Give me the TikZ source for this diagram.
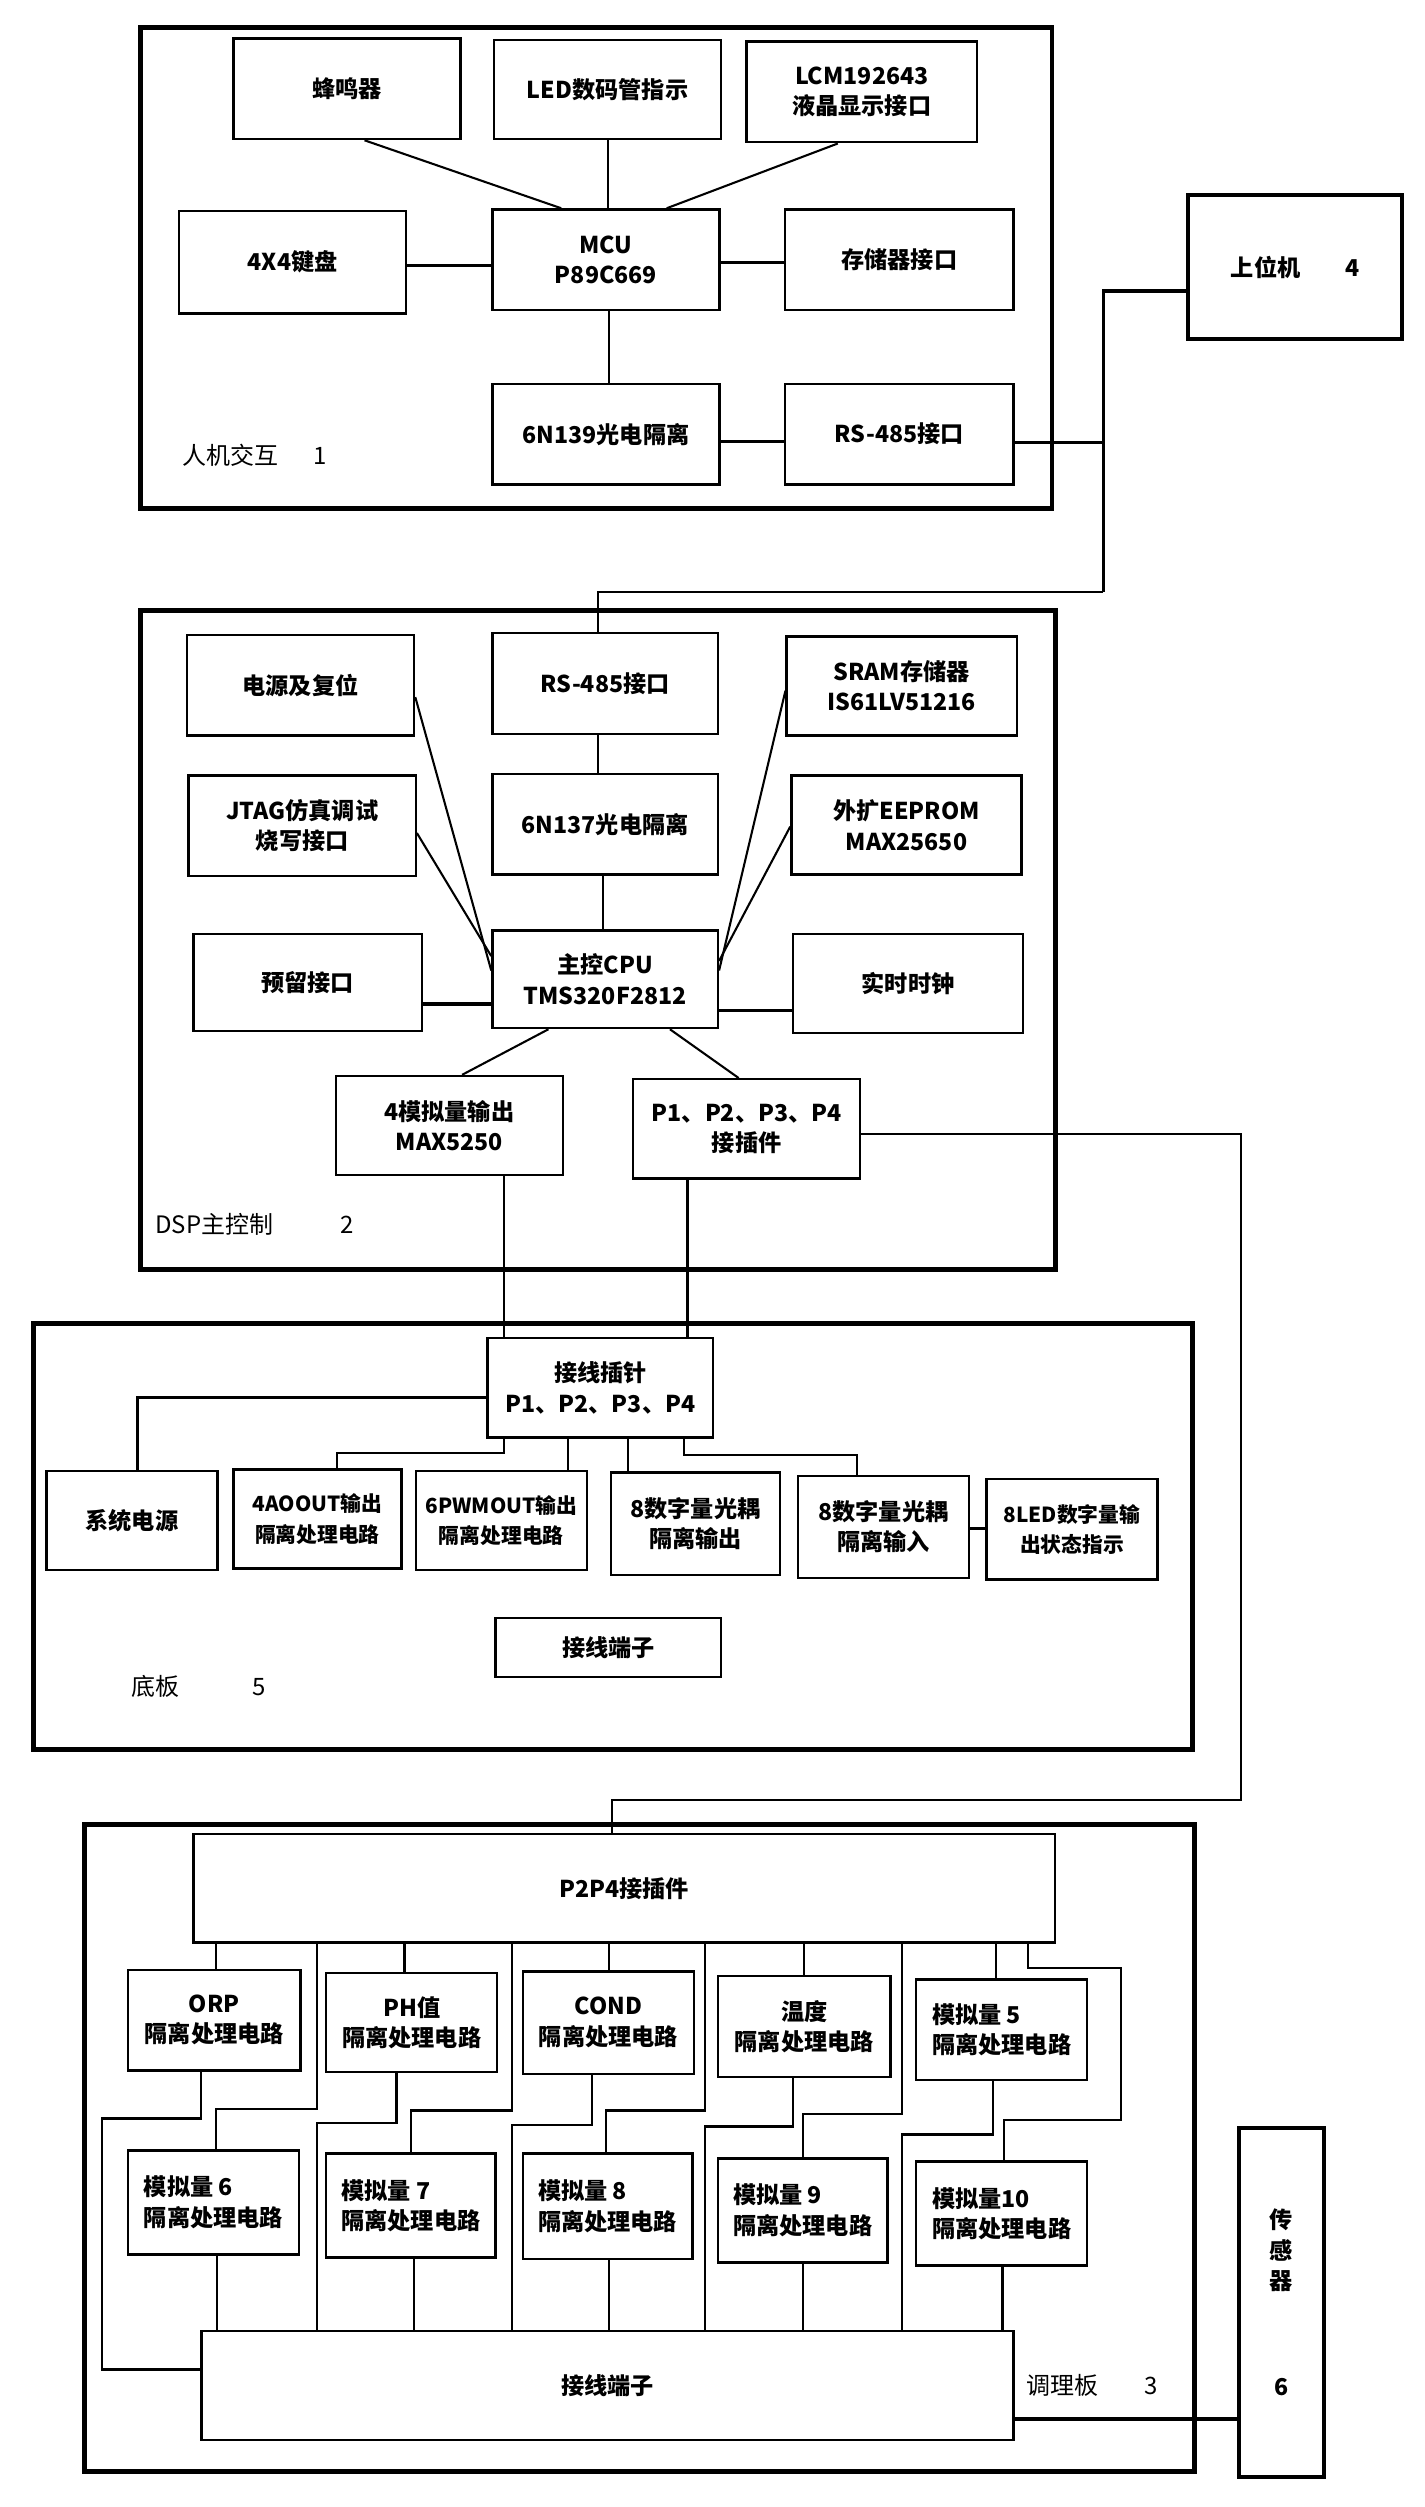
\documentclass[tikz,border=0pt]{standalone}
\usepackage{fontspec}
\setmainfont{Noto Sans CJK SC}
\usetikzlibrary{calc}
\newcommand\mkbox[7][]{%
  \node[bx,minimum width={#5-#3},minimum height={#6-#4},#1] (#2) at ({(#3+#5)/2},{(#4+#6)/2}) {#7};}
\begin{document}
\begin{tikzpicture}[x=1pt,y=-1pt,
  bx/.style={draw, line width=1.5pt, inner sep=1pt, align=center, font=\bfseries\fontsize{14.5}{19}\selectfont},
  small/.style={font=\bfseries\fontsize{13}{19}\selectfont},
  outer/.style={line width=3pt},
  ln/.style={line width=1.3pt},
  lnb/.style={line width=2pt},
  lbl/.style={font=\fontsize{15}{18}\selectfont, inner sep=0pt}]
\useasboundingbox (0,0) rectangle (891,1568);
\fill[white] (0,0) rectangle (891,1568);

% ---------- panels ----------
\mkbox[outer]{p1}{88}{17}{658}{318}{}
\mkbox[outer]{p2}{88}{382}{660}{794}{}
\mkbox[outer]{p5}{21}{828}{746}{1094}{}
\mkbox[outer]{p3}{53}{1141}{747}{1546}{}

% ---------- host & sensor ----------
\mkbox[line width=2.5pt]{host}{743}{122}{877}{212}{上位机\hspace{28pt}4}
\mkbox[line width=2.5pt]{sensor}{775}{1331}{828}{1549}{传\\感\\器\\[47pt]6}

% ---------- panel 1 ----------
\mkbox{buzzer}{146}{24}{288}{87}{蜂鸣器}
\mkbox{led}{309}{25}{451}{87}{LED数码管指示}
\mkbox{lcm}{467}{26}{611}{89}{LCM192643\\液晶显示接口}
\mkbox{kbd}{112}{132}{254}{196}{4X4键盘}
\mkbox{mcu}{308}{131}{450}{194}{MCU\\P89C669}
\mkbox{mem}{491}{131}{634}{194}{存储器接口}
\mkbox{iso1}{308}{240}{450}{303}{6N139光电隔离}
\mkbox{rs1}{491}{240}{634}{303}{RS-485接口}
\node[lbl,anchor=west] (lab1) at (114,285) {人机交互};
\node[lbl] (num1) at (200,285) {1};

% ---------- panel 2 ----------
\mkbox{pwr}{117}{397}{259}{460}{电源及复位}
\mkbox{rs2}{308}{396}{449}{459}{RS-485接口}
\mkbox{sram}{492}{398}{636}{460}{SRAM存储器\\IS61LV51216}
\mkbox{jtag}{118}{485}{260}{548}{JTAG仿真调试\\烧写接口}
\mkbox{iso2}{308}{484}{449}{547}{6N137光电隔离}
\mkbox{eep}{495}{485}{639}{547}{外扩EEPROM\\MAX25650}
\mkbox{rsv}{121}{584}{264}{645}{预留接口}
\mkbox{cpu}{308}{582}{449}{643}{主控CPU\\TMS320F2812}
\mkbox{rtc}{496}{584}{640}{646}{实时时钟}
\mkbox{dac}{210}{673}{352}{735}{4模拟量输出\\MAX5250}
\mkbox{conn}{396}{675}{538}{737}{P1、P2、P3、P4\\接插件}
\node[lbl,anchor=west] (lab2) at (97,766) {DSP主控制};
\node[lbl] (num2) at (217,766) {2};

% ---------- panel 5 ----------
\mkbox{pins}{305}{837}{446}{899}{接线插针\\P1、P2、P3、P4}
\mkbox{sys}{29}{920}{136}{982}{系统电源}
\mkbox[small]{ao}{146}{919}{251}{981}{4AOOUT输出\\隔离处理电路}
\mkbox[small]{pwm}{260}{920}{367}{982}{6PWMOUT输出\\隔离处理电路}
\mkbox{dout}{382}{921}{488}{985}{8数字量光耦\\隔离输出}
\mkbox{din}{499}{923}{606}{987}{8数字量光耦\\隔离输入}
\mkbox[small]{ledo}{617}{925}{724}{988}{8LED数字量输\\出状态指示}
\mkbox{term5}{310}{1012}{451}{1049}{接线端子}
\node[lbl,anchor=west] (lab5) at (82,1055) {底板};
\node[lbl] (num5) at (162,1055) {5};

% ---------- panel 3 ----------
\mkbox{p2p4}{121}{1147}{660}{1215}{P2P4接插件}
\mkbox{orp}{80}{1232}{188}{1295}{ORP\\隔离处理电路}
\mkbox{ph}{204}{1234}{311}{1296}{PH值\\隔离处理电路}
\mkbox{cond}{327}{1233}{434}{1297}{COND\\隔离处理电路}
\mkbox{temp}{449}{1236}{557}{1299}{温度\\隔离处理电路}
\mkbox[align=left]{a5}{573}{1238}{680}{1301}{模拟量 5\\隔离处理电路}
\mkbox[align=left]{a6}{80}{1345}{187}{1410}{模拟量 6\\隔离处理电路}
\mkbox[align=left]{a7}{204}{1347}{310}{1412}{模拟量 7\\隔离处理电路}
\mkbox[align=left]{a8}{327}{1347}{433}{1413}{模拟量 8\\隔离处理电路}
\mkbox[align=left]{a9}{449}{1350}{555}{1415}{模拟量 9\\隔离处理电路}
\mkbox[align=left]{a10}{573}{1352}{680}{1417}{模拟量10\\隔离处理电路}
\mkbox{term3}{126}{1458}{634}{1526}{接线端子}
\node[lbl,anchor=west] (lab3) at (642,1492) {调理板};
\node[lbl] (num3) at (720,1492) {3};

% ---------- connectors panel 1 ----------
\draw[ln] (buzzer.south -| 228,0) -- (mcu.north -| 351,0);
\draw[ln] (led.south -| 380,0) -- (mcu.north -| 380,0);
\draw[ln] (lcm.south -| 524,0) -- (mcu.north -| 417,0);
\draw[lnb] (kbd.east |- 0,166) -- (mcu.west |- 0,166);
\draw[lnb] (mcu.east |- 0,164) -- (mem.west |- 0,164);
\draw[ln] (mcu.south -| 381,0) -- (iso1.north -| 381,0);
\draw[lnb] (iso1.east |- 0,276) -- (rs1.west |- 0,276);
\coordinate (bus) at (690,277);
\draw[lnb] (rs1.east |- 0,277) -- (bus);
\draw[lnb] (host.west |- 0,182) -- (690,182) -- (690,370);
\draw[ln] (690,370) -- (374,370) -- (rs2.north -| 374,0);

% ---------- connectors panel 2 ----------
\draw[ln] (rs2.south -| 374,0) -- (iso2.north -| 374,0);
\draw[ln] (iso2.south -| 377,0) -- (cpu.north -| 377,0);
\draw[ln] (pwr.east |- 0,436) -- (cpu.west |- 0,607);
\draw[ln] (jtag.east |- 0,521) -- (cpu.west |- 0,598);
\draw[lnb] (rsv.east |- 0,628) -- (cpu.west |- 0,628);
\draw[ln] (sram.west |- 0,432) -- (cpu.east |- 0,607);
\draw[ln] (eep.west |- 0,517) -- (cpu.east |- 0,601);
\draw[lnb] (cpu.east |- 0,632) -- (rtc.west |- 0,632);
\draw[ln] (cpu.south -| 343,0) -- (dac.north -| 289,0);
\draw[ln] (cpu.south -| 419,0) -- (conn.north -| 462,0);
\draw[ln] (dac.south -| 315,0) -- (pins.north -| 315,0);
\draw[ln] (conn.south -| 430,0) -- (pins.north -| 430,0);
\draw[ln] (conn.east |- 0,709) -- (776,709) -- (776,1126) -- (383,1126) -- (p2p4.north -| 383,0);

% ---------- connectors panel 5 ----------
\draw[lnb] (pins.west |- 0,874) -- (86,874) -- (sys.north -| 86,0);
\draw[ln] (pins.south -| 315,0) -- (315,909) -- (211,909) -- (ao.north -| 211,0);
\draw[ln] (pins.south -| 355,0) -- (pwm.north -| 355,0);
\draw[ln] (pins.south -| 393,0) -- (dout.north -| 393,0);
\draw[ln] (pins.south -| 428,0) -- (428,910) -- (536,910) -- (din.north -| 536,0);
\draw[lnb] (din.east |- 0,956) -- (ledo.west |- 0,956);

% ---------- connectors panel 3 ----------
\draw[ln] (p2p4.south -| 135,0) -- (orp.north -| 135,0);
\draw[ln] (p2p4.south -| 198,0) -- (198,1319) -- (135,1319) -- (a6.north -| 135,0);
\draw[ln] (orp.south -| 126,0) -- (126,1325) -- (64,1325) -- (64,1482) -- (term3.west |- 0,1482);
\draw[ln] (a6.south -| 136,0) -- (term3.north -| 136,0);

\draw[ln] (p2p4.south -| 253,0) -- (ph.north -| 253,0);
\draw[ln] (p2p4.south -| 320,0) -- (320,1320) -- (257,1320) -- (a7.north -| 257,0);
\draw[ln] (ph.south -| 248,0) -- (248,1328) -- (198,1328) -- (term3.north -| 198,0);
\draw[ln] (a7.south -| 259,0) -- (term3.north -| 259,0);

\draw[ln] (p2p4.south -| 381,0) -- (cond.north -| 381,0);
\draw[ln] (p2p4.south -| 441,0) -- (441,1320) -- (379,1320) -- (a8.north -| 379,0);
\draw[ln] (cond.south -| 370,0) -- (370,1329) -- (320,1329) -- (term3.north -| 320,0);
\draw[ln] (a8.south -| 381,0) -- (term3.north -| 381,0);

\draw[ln] (p2p4.south -| 503,0) -- (temp.north -| 503,0);
\draw[ln] (p2p4.south -| 564,0) -- (564,1322) -- (502,1322) -- (a9.north -| 502,0);
\draw[ln] (temp.south -| 496,0) -- (496,1330) -- (441,1330) -- (term3.north -| 441,0);
\draw[ln] (a9.south -| 502,0) -- (term3.north -| 502,0);

\draw[ln] (p2p4.south -| 623,0) -- (a5.north -| 623,0);
\draw[ln] (p2p4.south -| 643,0) -- (643,1231) -- (701,1231) -- (701,1326) -- (628,1326) -- (a10.north -| 628,0);
\draw[ln] (a5.south -| 621,0) -- (621,1335) -- (564,1335) -- (term3.north -| 564,0);
\draw[ln] (a10.south -| 627,0) -- (term3.north -| 627,0);

\draw[lnb] (term3.east |- 0,1513) -- (sensor.west |- 0,1513);
\end{tikzpicture}
\end{document}
